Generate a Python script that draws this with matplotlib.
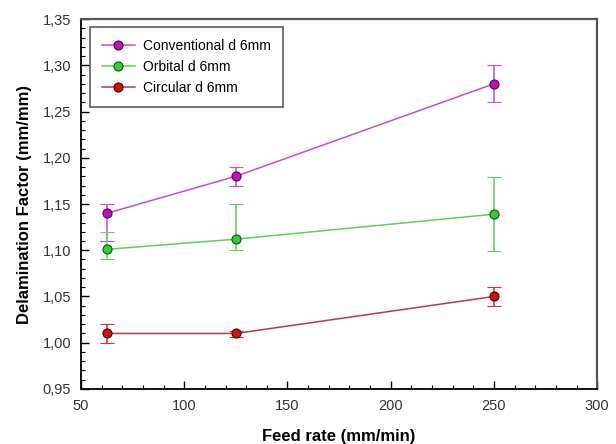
import matplotlib.pyplot as plt
from matplotlib.lines import Line2D
from matplotlib.ticker import FuncFormatter, MultipleLocator

plt.rcParams['font.family'] = ['Liberation Sans', 'DejaVu Sans']

feed_rate = [62.5, 125, 250]

conv = [1.14, 1.18, 1.28]
conv_lo = [0.03, 0.01, 0.02]
conv_hi = [0.01, 0.01, 0.02]

orb = [1.101, 1.112, 1.139]
orb_lo = [0.011, 0.012, 0.04]
orb_hi = [0.019, 0.038, 0.04]

circ = [1.01, 1.01, 1.05]
circ_lo = [0.01, 0.004, 0.01]
circ_hi = [0.01, 0.003, 0.01]

series = [
    ('Conventional d 6mm', conv, conv_lo, conv_hi, '#c050c8', '#c010c0', '#500050'),
    ('Orbital d 6mm', orb, orb_lo, orb_hi, '#5cd05c', '#30d030', '#105010'),
    ('Circular d 6mm', circ, circ_lo, circ_hi, '#b83848', '#d01010', '#500000'),
]

fig = plt.figure(figsize=(6.16, 4.44), dpi=100)
ax = fig.add_axes([0.1315, 0.124, 0.838, 0.833])

handles = []
for label, y, lo, hi, lc, fc, ec in series:
    ax.errorbar(feed_rate, y, yerr=[lo, hi], color=lc, lw=1.1, elinewidth=1.1,
                capsize=5, capthick=1.1, marker='o', ms=6.5, mfc=fc, mec=ec,
                mew=0.8)
    handles.append(Line2D([], [], color=lc, lw=1.1, marker='o', ms=6.5,
                          mfc=fc, mec=ec, mew=0.8, label=label))

ax.set_xlim(50, 300)
ax.set_ylim(0.95, 1.35)
ax.xaxis.set_major_locator(MultipleLocator(50))
ax.xaxis.set_minor_locator(MultipleLocator(10))
ax.yaxis.set_major_locator(MultipleLocator(0.05))
ax.yaxis.set_minor_locator(MultipleLocator(0.01))
ax.xaxis.set_major_formatter(FuncFormatter(lambda v, p: f'{v:.0f}'))
ax.yaxis.set_major_formatter(FuncFormatter(lambda v, p: f'{v:.2f}'.replace('.', ',')))

ax.tick_params(which='both', direction='in', top=False, right=False,
               labelsize=10.5, labelcolor='#333333', pad=7)
ax.tick_params(which='major', length=6, width=1)
ax.tick_params(which='minor', length=3, width=0.8)

for s in ['left', 'bottom']:
    ax.spines[s].set_linewidth(1.3)
    ax.spines[s].set_color('black')
for s in ['top', 'right']:
    ax.spines[s].set_linewidth(1.6)
    ax.spines[s].set_color('#555555')

ax.set_xlabel('Feed rate (mm/min)', fontsize=12, fontweight='bold', labelpad=12)
ax.set_ylabel('Delamination Factor (mm/mm)', fontsize=12, fontweight='bold', labelpad=8)

leg = ax.legend(handles=handles, loc='upper left', bbox_to_anchor=(0.0174, 0.978),
                borderaxespad=0, fontsize=10, frameon=True, fancybox=False,
                edgecolor='#333333', handlelength=2.4, handletextpad=0.6,
                borderpad=0.85, labelspacing=0.5)
leg.get_frame().set_linewidth(1.2)

fig.savefig('out.png', dpi=100)
